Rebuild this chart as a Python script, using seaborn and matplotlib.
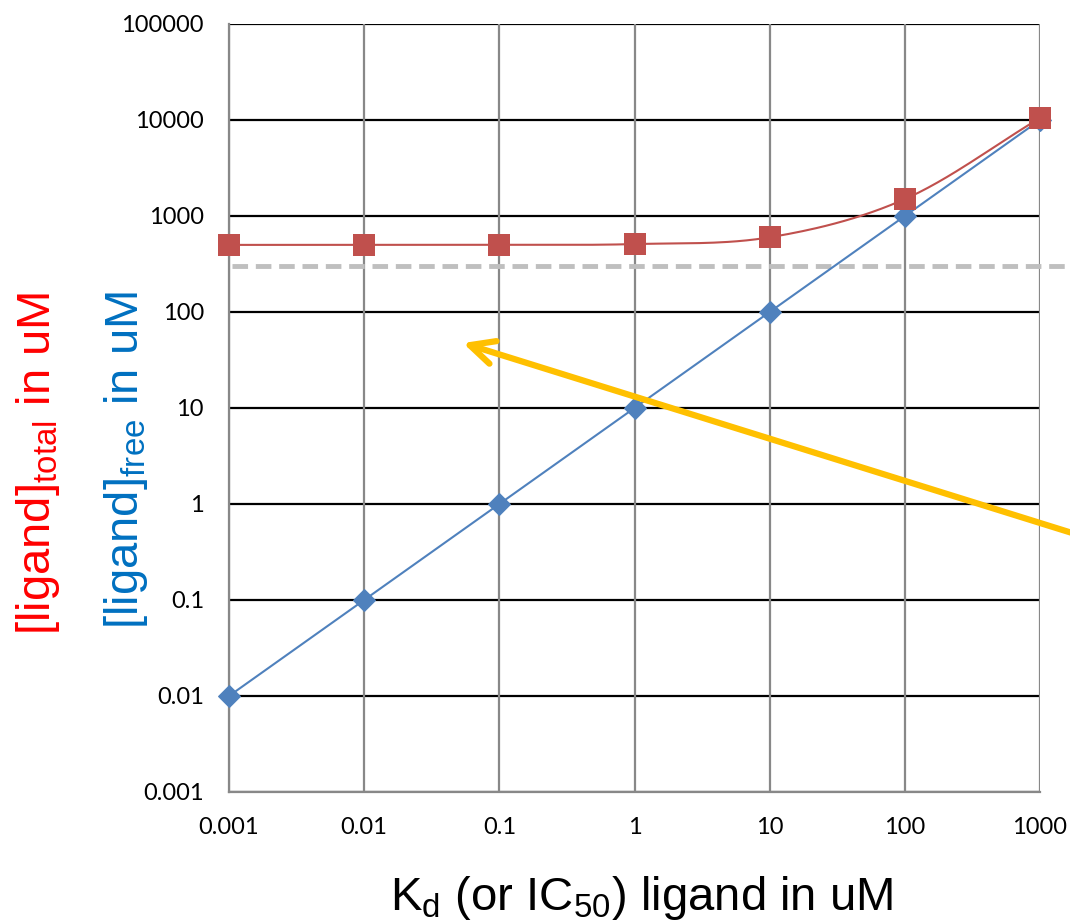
import numpy as np
import pandas as pd
import matplotlib
matplotlib.use("Agg")
import matplotlib.pyplot as plt
import seaborn as sns

# Data
kd = [0.001, 0.01, 0.1, 1, 10, 100, 1000]
ligand_free = [0.01, 0.1, 1, 10, 100, 1000, 10000]
ligand_total = [500.01, 500.1, 501, 510, 600, 1500, 10500]
threshold = 300
x_ticks = [0.001, 0.01, 0.1, 1, 10, 100, 1000]
x_tick_labels = ["0.001", "0.01", "0.1", "1", "10", "100", "1000"]
y_ticks = [0.001, 0.01, 0.1, 1, 10, 100, 1000, 10000, 100000]
y_tick_labels = ["0.001", "0.01", "0.1", "1", "10", "100", "1000", "10000", "100000"]

sns.set_theme(style="white")
plt.rcParams["font.family"] = ["Liberation Sans", "DejaVu Sans"]
plt.rcParams["mathtext.fontset"] = "custom"
plt.rcParams["mathtext.rm"] = "Liberation Sans"

fig = plt.figure(figsize=(10.7, 9.24), dpi=100)
ax = fig.add_axes([229 / 1070, 1 - 792 / 924, (1040 - 229) / 1070, (792 - 24) / 924])
ax.set_xscale("log")
ax.set_yscale("log")
ax.set_xlim(0.001, 1000)
ax.set_ylim(0.001, 100000)

grid_gray = "#888888"
# gridlines
for yv in y_ticks:
    ax.axhline(yv, color="black", lw=1.6, zorder=1)
for xv in x_ticks:
    ax.axvline(xv, color=grid_gray, lw=1.6, zorder=1.5)


def smooth_loglog(x, y, n=30):
    """Catmull-Rom curve through points in log-log space."""
    lx, ly = np.log10(x), np.log10(y)
    px = np.concatenate([[2 * lx[0] - lx[1]], lx, [2 * lx[-1] - lx[-2]]])
    py = np.concatenate([[2 * ly[0] - ly[1]], ly, [2 * ly[-1] - ly[-2]]])
    xs, ys = [], []
    t = np.linspace(0, 1, n)
    for i in range(1, len(px) - 2):
        for p, out in ((px, xs), (py, ys)):
            p0, p1, p2, p3 = p[i - 1], p[i], p[i + 1], p[i + 2]
            out.extend(0.5 * ((2 * p1) + (-p0 + p2) * t
                              + (2 * p0 - 5 * p1 + 4 * p2 - p3) * t ** 2
                              + (-p0 + 3 * p1 - 3 * p2 + p3) * t ** 3))
    return 10 ** np.array(xs), 10 ** np.array(ys)


red = "#C0504D"
blue = "#4F81BD"

# threshold dashed line (extends past the plot area)
ax.plot([0.00105, 3000], [threshold, threshold], color="#BFBFBF", lw=3.5,
        dashes=(3.2, 1.6), clip_on=False, zorder=2)

df = pd.DataFrame({"kd": kd, "free": ligand_free, "total": ligand_total})

# free ligand
sns.lineplot(data=df, x="kd", y="free", ax=ax, color=blue, lw=1.5,
             marker="D", markersize=11, markeredgecolor=blue, zorder=3,
             sort=False, estimator=None, clip_on=False)

# total ligand: smoothed line plus square markers
sx, sy = smooth_loglog(np.array(kd), np.array(ligand_total))
ax.plot(sx, sy, color=red, lw=1.5, zorder=4)
sns.scatterplot(data=df, x="kd", y="total", ax=ax, color=red, marker="s",
                s=230, edgecolor=red, linewidth=0, zorder=5, clip_on=False)

# axes styling
for side in ["top", "right"]:
    ax.spines[side].set_visible(False)
for side in ["left", "bottom"]:
    ax.spines[side].set_color(grid_gray)
    ax.spines[side].set_linewidth(1.6)
    ax.spines[side].set_zorder(1.6)

ax.set_xticks(x_ticks)
ax.set_xticklabels(x_tick_labels)
ax.set_yticks(y_ticks)
ax.set_yticklabels(y_tick_labels)
ax.minorticks_off()
ax.tick_params(axis="both", which="major", direction="out", length=6,
               width=1.6, color=grid_gray, labelsize=17, labelcolor="black")
ax.tick_params(axis="y", pad=12)
ax.tick_params(axis="x", pad=12)
for lab in ax.get_xticklabels() + ax.get_yticklabels():
    lab.set_family(["Lato", "DejaVu Sans"])
ax.set_xlabel("")
ax.set_ylabel("")

# axis titles
fig.text(642 / 1070, 1 - 898 / 924,
         r"K$_\mathregular{d}$ (or IC$_\mathregular{50}$) ligand in uM",
         ha="center", va="center", fontsize=34, color="black")
fig.text(38 / 1070, 1 - 463 / 924,
         r"[ligand]$_\mathregular{total}$ in uM",
         ha="center", va="center", rotation=90, fontsize=34, color="#FF0000")
fig.text(126 / 1070, 1 - 460 / 924,
         r"[ligand]$_\mathregular{free}$ in uM",
         ha="center", va="center", rotation=90, fontsize=34, color="#0070C0")

# pointer arrow
ax.annotate("", xy=(0.0538, 47.5), xycoords="data",
            xytext=(1085, 924 - 537), textcoords="figure pixels",
            arrowprops=dict(arrowstyle="->,head_length=1.75,head_width=0.85",
                            mutation_scale=10, color="#FFC000", lw=4.5,
                            shrinkA=0, shrinkB=0),
            annotation_clip=False, zorder=6)

fig.savefig("out.png", dpi=100)
